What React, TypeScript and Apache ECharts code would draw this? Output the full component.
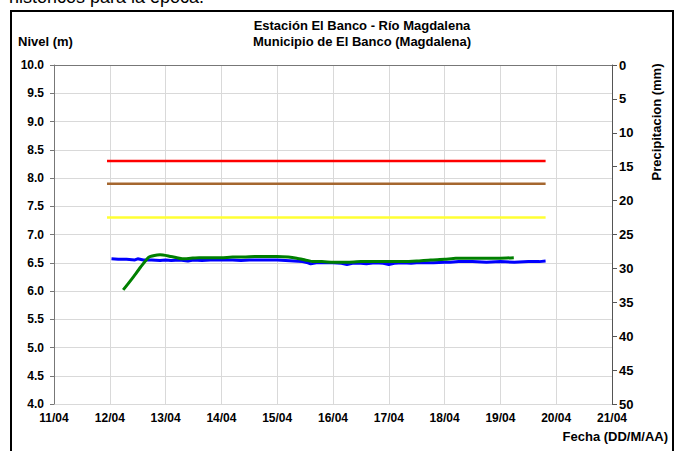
import React, { useEffect, useRef } from "react";
import * as echarts from "echarts";

const titleLines = ["Estación El Banco - Río Magdalena", "Municipio de El Banco (Magdalena)"];
const leftAxisName = "Nivel (m)";
const rightAxisName = "Precipitacion (mm)";
const xAxisName = "Fecha (DD/M/AA)";
const topCutText = "históricos para la época.";

const levelDays = [
  12.03, 12.15, 12.3, 12.45, 12.5, 12.6, 12.75, 12.9, 13.0, 13.1, 13.25, 13.4, 13.5, 13.65, 13.8,
  14.0, 14.2, 14.35, 14.5, 14.65, 14.8, 15.0, 15.15, 15.3, 15.45, 15.55, 15.6, 15.7, 15.85, 16.0,
  16.15, 16.25, 16.35, 16.5, 16.6, 16.75, 16.9, 17.0, 17.1, 17.25, 17.4, 17.5, 17.65, 17.8, 18.0,
  18.1, 18.25, 18.5, 18.75, 19.0, 19.25, 19.5, 19.7, 19.81,
];
const levelValues = [
  6.57, 6.56, 6.56, 6.55, 6.57, 6.55, 6.55, 6.54, 6.55, 6.54, 6.55, 6.53, 6.55, 6.54, 6.55,
  6.55, 6.55, 6.54, 6.55, 6.55, 6.55, 6.55, 6.54, 6.53, 6.52, 6.5, 6.48, 6.5, 6.5, 6.5,
  6.49, 6.47, 6.49, 6.49, 6.48, 6.5, 6.49, 6.47, 6.49, 6.5, 6.49, 6.5, 6.5, 6.5, 6.51,
  6.51, 6.52, 6.52, 6.51, 6.52, 6.51, 6.52, 6.52, 6.53,
];

const greenDays = [
  12.24, 12.4, 12.55, 12.7, 12.8, 12.9, 13.05, 13.2, 13.3, 13.45, 13.6, 13.8, 14.0, 14.2, 14.4,
  14.6, 14.8, 15.0, 15.2, 15.35, 15.5, 15.65, 15.8, 16.0, 16.25, 16.5, 16.75, 17.0, 17.25, 17.5,
  17.75, 18.0, 18.2, 18.5, 18.75, 19.0, 19.24,
];
const greenValues = [
  6.02, 6.22, 6.42, 6.6, 6.63, 6.64, 6.62, 6.59, 6.57, 6.58, 6.59, 6.59, 6.59, 6.6, 6.6,
  6.61, 6.61, 6.61, 6.6, 6.58, 6.55, 6.52, 6.52, 6.51, 6.51, 6.52, 6.52, 6.52, 6.52, 6.53,
  6.55, 6.56, 6.58, 6.58, 6.58, 6.58, 6.59,
];

const thresholdStart = 11.95;
const thresholdEnd = 19.81;
const thresholdLevels = [8.3, 7.9, 7.3];
const thresholdColors = ["#ff0000", "#a5672f", "#ffff33"];

const FONT = "'Liberation Sans', Arial, sans-serif";

export default function App() {
  const ref = useRef<HTMLDivElement>(null);
  useEffect(() => {
    document.body.style.margin = "0";
    const chart = echarts.init(ref.current!, null, { renderer: "svg" });
    const pair = (xs: number[], ys: number[]) => xs.map((x, i) => [x, ys[i]]);
    const thresholdSeries = thresholdLevels.map((lv, i) => ({
      type: "line",
      data: [
        [thresholdStart, lv],
        [thresholdEnd, lv],
      ],
      showSymbol: false,
      symbol: "none",
      lineStyle: { color: thresholdColors[i], width: 2.5 },
      z: 3,
    }));
    chart.setOption({
      animation: false,
      backgroundColor: "#ffffff",
      textStyle: { fontFamily: FONT },
      title: {
        text: titleLines.join("\n"),
        left: 357,
        top: 12,
        textAlign: "center",
        textStyle: { fontSize: 13, fontWeight: "bold", color: "#000", lineHeight: 16, fontFamily: FONT },
      },
      grid: { left: 54, right: 72, top: 65, bottom: 47 },
      xAxis: {
        type: "value",
        min: 11,
        max: 21,
        interval: 1,
        axisLine: { show: true, lineStyle: { color: "#777", width: 1 } },
        axisTick: { show: false },
        splitLine: { show: true, lineStyle: { color: "#d9d9d9", width: 1 } },
        axisLabel: {
          color: "#000",
          fontWeight: "bold",
          fontSize: 12,
          margin: 8,
          fontFamily: FONT,
          formatter: (v: number) => `${String(Math.round(v)).padStart(2, "0")}/04`,
        },
      },
      yAxis: [
        {
          type: "value",
          min: 4,
          max: 10,
          interval: 0.5,
          axisLine: { show: true, lineStyle: { color: "#777", width: 1 } },
          axisTick: { show: true, length: 4, lineStyle: { color: "#777" } },
          splitLine: { show: true, lineStyle: { color: "#d9d9d9", width: 1 } },
          axisLabel: {
            color: "#000",
            fontWeight: "bold",
            fontSize: 12,
            margin: 10,
            fontFamily: FONT,
            formatter: (v: number) => v.toFixed(1),
          },
        },
        {
          type: "value",
          min: 0,
          max: 50,
          interval: 5,
          inverse: true,
          position: "right",
          axisLine: { show: true, lineStyle: { color: "#555", width: 1 } },
          axisTick: { show: true, length: 5, lineStyle: { color: "#555" } },
          splitLine: { show: false },
          axisLabel: {
            color: "#000",
            fontWeight: "bold",
            fontSize: 13,
            margin: 7,
            fontFamily: FONT,
          },
        },
      ],
      series: [
        ...thresholdSeries,
        {
          type: "line",
          data: pair(levelDays, levelValues),
          showSymbol: false,
          symbol: "none",
          lineStyle: { color: "#0000ff", width: 3 },
          z: 4,
        },
        {
          type: "line",
          data: pair(greenDays, greenValues),
          showSymbol: false,
          symbol: "none",
          smooth: 0.2,
          lineStyle: { color: "#008000", width: 3 },
          z: 5,
        },
      ],
      graphic: [
        {
          type: "text",
          left: 9,
          top: -12,
          style: { text: topCutText, font: `18px ${FONT}`, fill: "#000" },
        },
        {
          type: "rect",
          shape: { x: 11, y: 11, width: 662, height: 460 },
          style: { fill: "none", stroke: "#000", lineWidth: 2 },
          z: 10,
        },
        {
          type: "text",
          x: 18,
          y: 35,
          style: { text: leftAxisName, font: `bold 13px ${FONT}`, fill: "#000" },
        },
        {
          type: "text",
          x: 656,
          y: 122,
          rotation: Math.PI / 2,
          style: {
            text: rightAxisName,
            font: `bold 13px ${FONT}`,
            fill: "#000",
            align: "center",
            verticalAlign: "middle",
          },
        },
        {
          type: "text",
          x: 668,
          y: 430,
          style: { text: xAxisName, font: `bold 13px ${FONT}`, fill: "#000", align: "right" },
        },
      ],
    });
    return () => chart.dispose();
  }, []);
  return (
    <div
      ref={ref}
      style={{ position: "absolute", left: 0, top: 0, width: 684, height: 451 }}
    />
  );
}
